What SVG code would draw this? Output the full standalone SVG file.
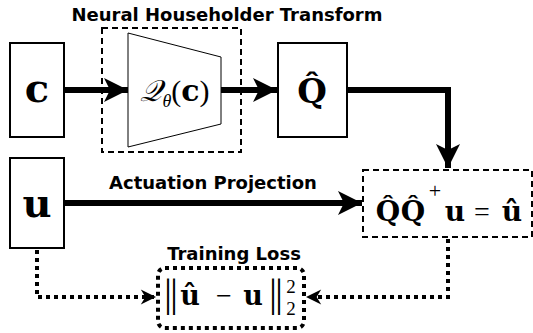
<svg xmlns="http://www.w3.org/2000/svg" width="533" height="333" viewBox="0 0 533 333">
<style>
.box{fill:#fff;stroke:#000;stroke-width:2}
.dash{fill:none;stroke:#000;stroke-width:2;stroke-dasharray:6 4}
.dot{fill:none;stroke:#000;stroke-width:4;stroke-dasharray:4 4}
.thick{fill:none;stroke:#000;stroke-width:6}
.lbl{font-family:"DejaVu Sans","Liberation Sans",sans-serif;font-weight:bold;font-size:18px;fill:#000}
.m{font-family:"DejaVu Serif","Liberation Serif",serif;font-weight:bold;fill:#000;text-anchor:middle}
.lr{font-family:"Liberation Serif",serif;fill:#000;text-anchor:middle}
</style>
<defs>
<marker id="ah" viewBox="0 0 10 10" refX="10" refY="5" markerWidth="4.4" markerHeight="4" markerUnits="strokeWidth" orient="auto"><path d="M0,0 L10,5 L0,10 L2.5,5 Z" fill="#000"/></marker>
<marker id="ahd" viewBox="0 0 10 10" refX="10" refY="5" markerWidth="4.8" markerHeight="3.8" markerUnits="strokeWidth" orient="auto"><path d="M0,0 L10,5 L0,10 L3,5 Z" fill="#000"/></marker>
</defs>
<g id="connectors">
<line class="thick" x1="64" y1="90" x2="128" y2="90" marker-end="url(#ah)"/>
<line class="thick" x1="221" y1="90" x2="277" y2="90" marker-end="url(#ah)"/>
<polyline class="thick" points="347,90 448,90 448,168" marker-end="url(#ah)"/>
<line class="thick" x1="64" y1="203" x2="362" y2="203" marker-end="url(#ah)"/>
<polyline class="dot" points="37,250 37,297 156,297" marker-end="url(#ahd)"/>
<polyline class="dot" points="448,239 448,297 306,297" marker-end="url(#ahd)"/>
<text class="lbl" x="213" y="189" text-anchor="middle">Actuation Projection</text>
</g>
<g id="c">
<rect class="box" x="10" y="43" width="54" height="94"/>
<text class="m" x="37" y="102" font-size="40">c</text>
</g>
<g id="householder">
<rect class="dash" x="102" y="28" width="139" height="124"/>
<text class="lbl" x="227" y="21" font-size="19" text-anchor="middle">Neural Householder Transform</text>
<polygon points="128,33 221,57 221,124 128,147" fill="#fff" stroke="#000" stroke-width="1"/>
<text x="175" y="101" font-size="30" text-anchor="middle"><tspan class="lr" font-style="italic">𝒬</tspan><tspan class="lr" font-style="italic" font-size="18" dy="6">θ</tspan><tspan class="lr" dy="-6">(</tspan><tspan class="m">c</tspan><tspan class="lr">)</tspan></text>
</g>
<g id="qhat">
<rect class="box" x="278" y="43" width="69" height="94"/>
<text class="m" x="312" y="103" font-size="34">Q̂</text>
</g>
<g id="u">
<rect class="box" x="10" y="158" width="54" height="90"/>
<text class="m" x="37" y="217" font-size="40">u</text>
</g>
<g id="projection">
<rect class="dash" x="363" y="170" width="169" height="67"/>
<text class="m" x="388" y="221" font-size="28">Q̂</text>
<text class="m" x="413" y="221" font-size="28">Q̂</text>
<text class="lr" x="435" y="198" font-size="22">+</text>
<text class="m" x="455" y="221" font-size="28">u</text>
<text class="lr" x="482" y="221" font-size="28">=</text>
<text class="m" x="512" y="221" font-size="28">û</text>
</g>
<g id="loss">
<rect class="dot" x="158" y="268" width="146" height="60" rx="7"/>
<text class="lbl" x="234" y="260" text-anchor="middle">Training Loss</text>
<text class="lr" x="170" y="306" font-size="40" letter-spacing="-2">||</text>
<text class="m" x="190" y="305" font-size="27">û</text>
<text class="lr" x="224" y="305" font-size="28">−</text>
<text class="m" x="253" y="305" font-size="27">u</text>
<text class="lr" x="275" y="306" font-size="40" letter-spacing="-2">||</text>
<text class="lr" x="291" y="293" font-size="19">2</text>
<text class="lr" x="291" y="315" font-size="19">2</text>
</g>
</svg>
